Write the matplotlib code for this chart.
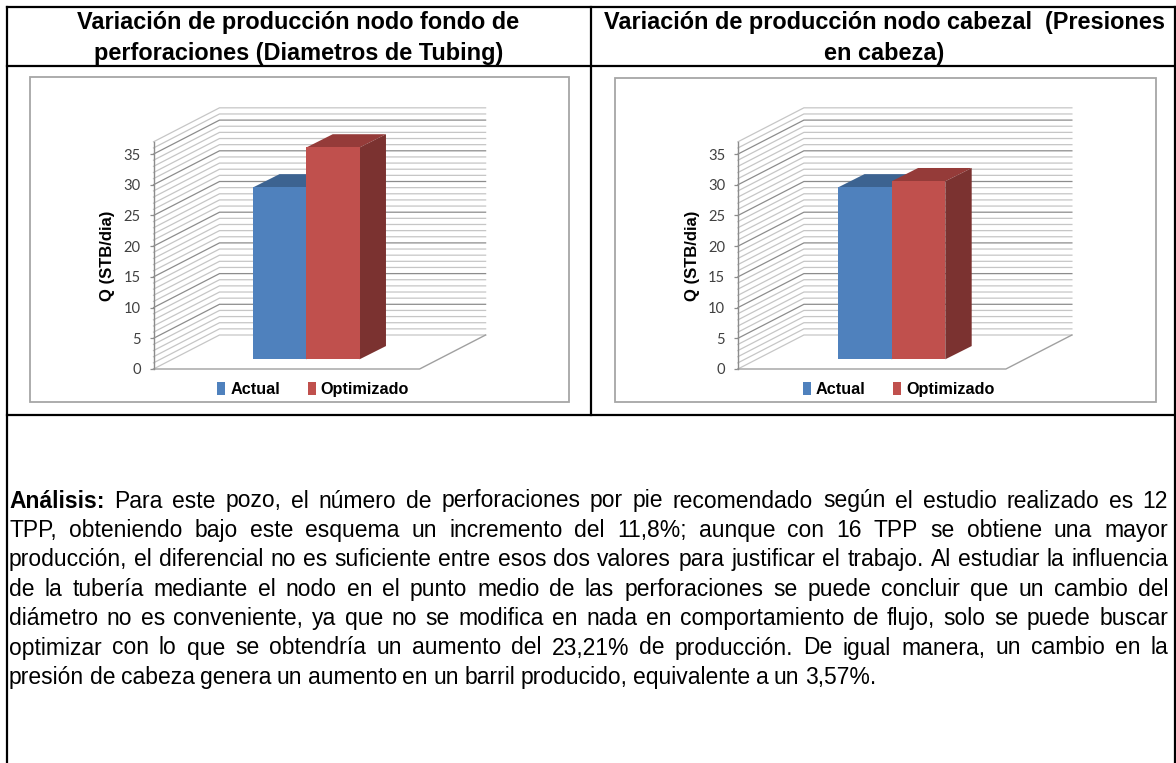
import matplotlib
matplotlib.use("Agg")
import matplotlib.pyplot as plt
from matplotlib.patches import Patch, Polygon, Rectangle

# data
series_names = ["Actual", "Optimizado"]
tubing_values = [28, 34.5]
cabezal_values = [28, 29]
y_ticks = [0, 5, 10, 15, 20, 25, 30, 35]
y_max = 37
y_label = "Q (STB/dia)"

title_left = ["Variación de producción nodo fondo de", "perforaciones (Diametros de Tubing)"]
title_right = ["Variación de producción nodo cabezal  (Presiones", "en cabeza)"]

bold_word = "Análisis:"
body_lines = [
    "Para este pozo, el número de perforaciones por pie recomendado según el estudio realizado es 12",
    "TPP, obteniendo bajo este esquema un incremento del 11,8%; aunque con 16 TPP se obtiene una mayor",
    "producción, el diferencial no es suficiente entre esos dos valores para justificar el trabajo.  Al estudiar la influencia",
    "de la tubería mediante el nodo en el punto medio de las perforaciones se puede concluir que un cambio del",
    "diámetro no es conveniente, ya que no se modifica en nada en comportamiento de flujo, solo se puede buscar",
    "optimizar con lo que se obtendría un aumento del 23,21% de producción. De igual manera, un cambio en la",
    "presión de cabeza genera un aumento en un barril producido, equivalente a un 3,57%.",
]

W, H = 1176, 763
FRONT_COLORS = ["#4F81BD", "#C0504D"]
TOP_COLORS = ["#3C6391", "#953B39"]
SIDE_COLORS = ["#2F4F75", "#7B3230"]

plt.rcParams["font.family"] = "Liberation Sans"

fig = plt.figure(figsize=(W / 100, H / 100), dpi=100, facecolor="white")

# page layer, in pixels of the picture
page = fig.add_axes([0, 0, 1, 1])
page.set_xlim(0, W)
page.set_ylim(H, 0)
page.axis("off")

for x0, y0, x1, y1 in [(7, 7, 1176, 7), (7, 66, 1176, 66), (7, 415, 1176, 415),
                       (7, 7, 7, 763), (591, 7, 591, 415), (1174.5, 7, 1174.5, 763)]:
    page.plot([x0, x1], [y0, y1], color="black", lw=1.6, solid_capstyle="projecting")

for lines, cx in [(title_left, 298.5), (title_right, 884.5)]:
    for ln, yy in zip(lines, [28.5, 60]):
        page.text(cx, yy, ln, ha="center", va="baseline", fontsize=16.9, fontweight="bold", color="black")

renderer = fig.canvas.get_renderer()


def text_width(s, **kw):
    t = page.text(0, 0, s, **kw)
    w = t.get_window_extent(renderer).width
    t.remove()
    return w


def justified(words, x0, x1, y, size=16.5):
    # words is a list of (text, weight)
    widths = [text_width(w, fontsize=size, fontweight=b) for w, b in words]
    gap = (x1 - x0 - sum(widths)) / (len(words) - 1)
    x = x0
    for (w, b), ww in zip(words, widths):
        page.text(x, y, w, fontsize=size, fontweight=b, ha="left", va="baseline", color="black")
        x += ww + gap


line_right = [1168, 1168, 1168, 1168, 1168, 1168, 876]
for i, ln in enumerate(body_lines):
    words = [(w, "normal") for w in ln.split()]
    if i == 0:
        words.insert(0, (bold_word, "bold"))
    justified(words, 9, line_right[i], 507.5 + i * 29.4)


def chart(frame, x_front, x_right, values):
    # chart frame
    fx0, fy0, fx1, fy1 = frame
    page.add_patch(Rectangle((fx0, fy0), fx1 - fx0, fy1 - fy0, fc="white", ec="#A6A6A6", lw=1.3))

    # front plane of the 3D box is the axes: x 0..1, y 0..y_max
    px_per_unit = 6.14
    ax = fig.add_axes([x_front / W, 1 - 369 / H, (x_right - x_front) / W, y_max * px_per_unit / H])
    ax.patch.set_alpha(0)
    ax.set_xlim(0, 1)
    ax.set_ylim(0, y_max)
    depth_x = 66 / (x_right - x_front)
    depth_y = 34 / px_per_unit

    # walls, one gridline per unit
    for v in range(0, y_max + 1):
        major = v % 5 == 0 and v > 0
        col = "#8C8C8C" if major else "#C6C6C6"
        ax.plot([0, depth_x, 1 + depth_x], [v, v + depth_y, v + depth_y], color=col, lw=0.9,
                clip_on=False, zorder=2 if major else 1, solid_joinstyle="miter")
    ax.plot([0, 1, 1 + depth_x], [0, 0, depth_y], color="#A0A0A0", lw=1, clip_on=False, zorder=2)

    # bars
    bar_w = 0.2
    lefts = [0.3, 0.5]
    for i in range(2):
        x0 = lefts[i] + 0.3 * depth_x
        y0 = 0.285 * depth_y
        top = y0 + values[i]
        dx = 0.4 * depth_x
        dy = 0.39 * depth_y
        ax.add_patch(Polygon([(x0, top), (x0 + dx, top + dy), (x0 + bar_w + dx, top + dy), (x0 + bar_w, top)],
                             fc=TOP_COLORS[i], ec="none", zorder=3 + i, clip_on=False))
        ax.add_patch(Polygon([(x0 + bar_w, y0), (x0 + bar_w + dx, y0 + dy), (x0 + bar_w + dx, top + dy), (x0 + bar_w, top)],
                             fc=SIDE_COLORS[i], ec="none", zorder=3 + i, clip_on=False))
        ax.bar(x0, values[i], width=bar_w, bottom=y0, align="edge", color=FRONT_COLORS[i], zorder=3.5 + i)

    for s in ["top", "right", "bottom"]:
        ax.spines[s].set_visible(False)
    ax.spines["left"].set_color("#8C8C8C")
    ax.spines["left"].set_linewidth(1)
    ax.set_xticks([])
    ax.set_yticks(y_ticks)
    ax.tick_params(axis="y", length=3.2, width=0.9, color="#8C8C8C", pad=6, labelsize=10.6, labelcolor="#404040")
    for lb in ax.get_yticklabels():
        lb.set_fontfamily("Lato")
    ax.set_ylabel(y_label, fontsize=12, fontweight="bold", labelpad=6, y=0.5)

    handles = [Patch(fc=FRONT_COLORS[i], label=series_names[i]) for i in range(2)]
    ax.legend(handles=handles, loc="center", bbox_to_anchor=(0.6, -0.09), ncol=2, frameon=False,
              handlelength=0.5, handleheight=0.8, handletextpad=0.3, columnspacing=1.7,
              borderaxespad=0, prop={"size": 11.7, "weight": "bold"})
    return ax


chart((30, 77, 568.5, 401.5), 153.5, 419.6, tubing_values)
chart((614.5, 78, 1155.5, 401.5), 737.9, 1005.9, cabezal_values)

fig.savefig("out.png", dpi=100)
